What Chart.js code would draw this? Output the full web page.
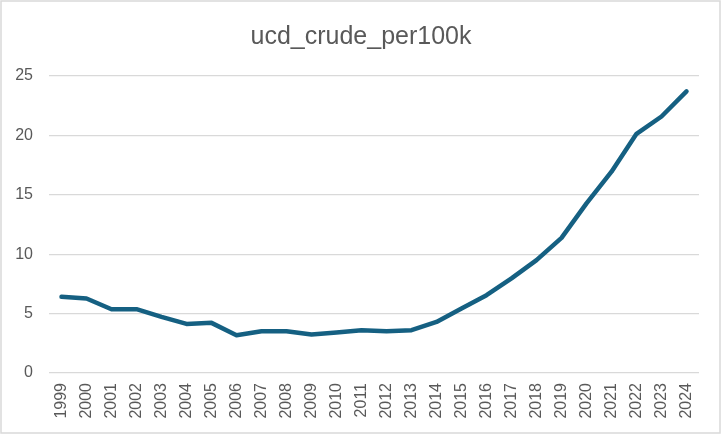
<!DOCTYPE html>
<html>
<head>
<meta charset="utf-8">
<script src="https://cdn.jsdelivr.net/npm/chart.js@4.4.1/dist/chart.umd.min.js"></script>
<style>
  html, body { margin: 0; padding: 0; background: #ffffff; }
  #wrap { width: 722px; height: 436px; position: relative; }
</style>
</head>
<body>
<div id="wrap"><canvas id="c" width="722" height="436"></canvas></div>
<script>
const chartTitle = "ucd_crude_per100k";
const years = ["1999","2000","2001","2002","2003","2004","2005","2006","2007","2008","2009","2010","2011","2012","2013","2014","2015","2016","2017","2018","2019","2020","2021","2022","2023","2024"];
const crudeRate = [6.41, 6.27, 5.37, 5.37, 4.72, 4.13, 4.22, 3.18, 3.52, 3.52, 3.24, 3.40, 3.60, 3.52, 3.60, 4.30, 5.43, 6.55, 7.96, 9.50, 11.38, 14.28, 16.95, 20.13, 21.59, 23.70];
const yTicks = [0, 5, 10, 15, 20, 25];

const textColor = "#595959";
const gridColor = "#d9d9d9";
const fontFamily = "'Liberation Sans', Arial, sans-serif";

const framePlugin = {
  id: "frame",
  beforeDraw(chart) {
    const ctx = chart.ctx;
    ctx.save();
    ctx.fillStyle = "#ffffff";
    ctx.fillRect(0, 0, chart.width, chart.height);
    ctx.restore();
  },
  afterDraw(chart) {
    const ctx = chart.ctx;
    ctx.save();
    // centred chart title
    ctx.fillStyle = textColor;
    ctx.font = "25px " + fontFamily;
    ctx.textAlign = "center";
    ctx.textBaseline = "alphabetic";
    ctx.fillText(chartTitle, chart.width / 2, 43.5);
    // outer frame
    ctx.strokeStyle = gridColor;
    ctx.lineWidth = 1.5;
    ctx.strokeRect(1, 1, 719, 432);
    ctx.restore();
  }
};

new Chart(document.getElementById("c"), {
  type: "line",
  data: {
    labels: years,
    datasets: [{
      label: chartTitle,
      data: crudeRate,
      borderColor: "#156082",
      backgroundColor: "#156082",
      borderWidth: 4.5,
      borderCapStyle: "round",
      borderJoinStyle: "round",
      pointRadius: 0,
      pointHoverRadius: 0,
      tension: 0,
      fill: false
    }]
  },
  options: {
    responsive: false,
    animation: false,
    devicePixelRatio: 1,
    layout: { padding: { left: 0, right: 23, top: 76, bottom: 0 } },
    plugins: {
      legend: { display: false },
      tooltip: { enabled: false },
      title: { display: false }
    },
    scales: {
      x: {
        type: "category",
        offset: true,
        grid: { display: false, drawTicks: false },
        border: { display: false },
        ticks: {
          color: textColor,
          font: { family: fontFamily, size: 16 },
          minRotation: 90,
          maxRotation: 90,
          autoSkip: false,
          padding: 10
        },
        afterFit(scale) { scale.height = 63; }
      },
      y: {
        min: 0,
        max: 25,
        afterBuildTicks(scale) { scale.ticks = yTicks.map(v => ({ value: v })); },
        grid: { color: gridColor, lineWidth: 1.3, drawTicks: false },
        border: { display: false },
        ticks: {
          color: textColor,
          font: { family: fontFamily, size: 16 },
          padding: 16
        },
        afterFit(scale) { scale.width = 49; }
      }
    }
  },
  plugins: [framePlugin]
});
</script>
</body>
</html>
